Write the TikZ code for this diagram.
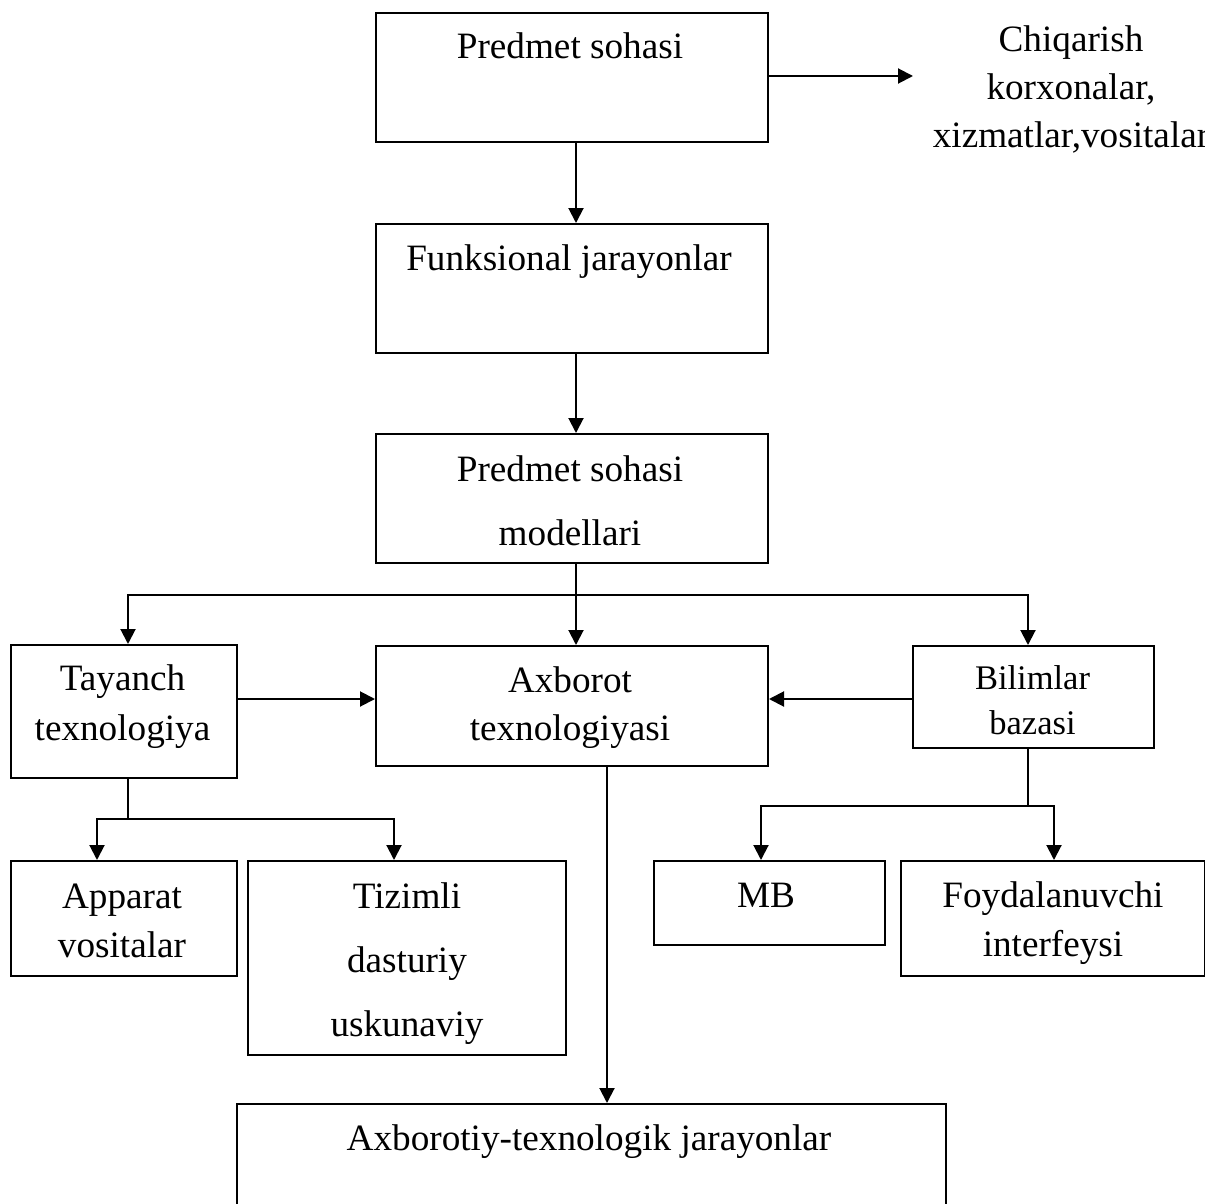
\documentclass[tikz,border=0pt]{standalone}
\usepackage{fontspec}
\setmainfont{Liberation Serif}
\usetikzlibrary{arrows.meta}

\begin{document}
\begin{tikzpicture}[x=0.5pt,y=-0.5pt,
  box/.style 2 args={draw, line width=1pt, inner sep=0pt,
    minimum width=#1*0.5pt, minimum height=#2*0.5pt},
  txt/.style={anchor=base, inner sep=0pt, font=\fontsize{18.6pt}{22pt}\selectfont},
  smalltxt/.style={anchor=base, inner sep=0pt, font=\fontsize{17.25pt}{20pt}\selectfont},
  link/.style={line width=1pt},
  arr/.style={line width=1pt, -{Triangle[length=7.5pt,width=7.5pt]}}]

\useasboundingbox (0,0) rectangle (1205,1204);
\clip (0,0) rectangle (1205,1204);

% boxes
\node[box={392}{129}] (b1) at (572,77.5) {};
\node[box={392}{129}] (b2) at (572,288.5) {};
\node[box={392}{129}] (b3) at (572,498.5) {};
\node[box={226}{133}] (tay) at (124,711.5) {};
\node[box={392}{120}] (axb) at (572,706) {};
\node[box={241}{102}] (bil) at (1033.5,697) {};
\node[box={226}{115}] (app) at (124,918.5) {};
\node[box={318}{194}] (tiz) at (407,958) {};
\node[box={231}{84}] (mb) at (769.5,903) {};
\node[box={304}{115}] (foy) at (1053,918.5) {};
\node[box={709.5}{129}] (atj) at (591.25,1168.5) {};

% texts
\node[txt] (t1) at (570,59) {Predmet sohasi};
\node[txt] (t2) at (569,270) {Funksional jarayonlar};
\node[txt] (t3a) at (570,481) {Predmet sohasi};
\node[txt] (t3b) at (570,545) {modellari};
\node[txt] (tta) at (122.5,690) {Tayanch};
\node[txt] (ttb) at (122.5,740) {texnologiya};
\node[txt] (tax) at (570,692) {Axborot};
\node[txt] (taxb) at (570,740) {texnologiyasi};
\node[smalltxt] (tbl) at (1032.5,689) {Bilimlar};
\node[smalltxt] (tblb) at (1032.5,734) {bazasi};
\node[txt] (tch1) at (1071,52) {Chiqarish};
\node[txt] (tch2) at (1071,100) {korxonalar,};
\node[txt] (tch3) at (1071,148) {xizmatlar,vositalar};
\node[txt] (tap) at (122,908) {Apparat};
\node[txt] (tapb) at (122,957) {vositalar};
\node[txt] (tz1) at (407,908) {Tizimli};
\node[txt] (tz2) at (407,972) {dasturiy};
\node[txt] (tz3) at (407,1036) {uskunaviy};
\node[txt] (tmb) at (766,907) {MB};
\node[txt] (tfy) at (1053,907) {Foydalanuvchi};
\node[txt] (tfyb) at (1053,956) {interfeysi};
\node[txt] (tat) at (589,1150) {Axborotiy-texnologik jarayonlar};

% helper coordinates for connector routes
\coordinate (chq) at (913,76);
\coordinate (j1) at (576,595);
\coordinate (lvl) at (0,699);
\coordinate (j2) at (128,819);
\coordinate (j3) at (1028,806);
\coordinate (cP) at (97,0);
\coordinate (cZ) at (394,0);
\coordinate (cM) at (761,0);
\coordinate (cF) at (1054,0);
\coordinate (cT) at (128,0);
\coordinate (cK) at (1028,0);
\coordinate (cS) at (576,0);
\coordinate (cA) at (607,0);

% connectors
\draw[arr] (b1.east |- chq) -- (chq);
\draw[arr] (b1.south -| cS) -- (b2.north -| cS);
\draw[arr] (b2.south -| cS) -- (b3.north -| cS);
\draw[arr] (b3.south -| cS) -- (axb.north -| cS);
\draw[arr] (j1) -| (tay.north -| cT);
\draw[arr] (j1) -| (bil.north -| cK);
\draw[arr] (tay.east |- lvl) -- (axb.west |- lvl);
\draw[arr] (bil.west |- lvl) -- (axb.east |- lvl);
\draw[link] (tay.south -| cT) -- (j2);
\draw[arr] (j2) -| (app.north -| cP);
\draw[arr] (j2) -| (tiz.north -| cZ);
\draw[link] (bil.south -| cK) -- (j3);
\draw[arr] (j3) -| (mb.north -| cM);
\draw[arr] (j3) -| (foy.north -| cF);
\draw[arr] (axb.south -| cA) -- (atj.north -| cA);

\end{tikzpicture}
\end{document}
